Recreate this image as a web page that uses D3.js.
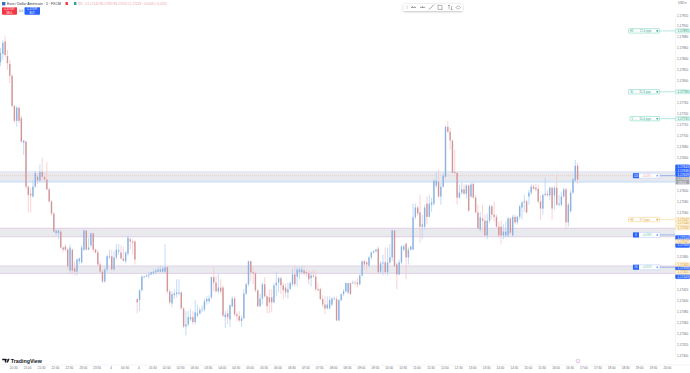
<!doctype html>
<html lang="fr">
<head>
<meta charset="utf-8">
<script src="https://d3js.org/d3.v7.min.js"></script>
<title>Euro / Dollar Américain</title>
<style>
  html, body { margin: 0; padding: 0; background: #fff; }
  svg { display: block; font-family: "Liberation Sans", sans-serif; }
</style>
</head>
<body>
<svg id="svg1" width="690" height="373"></svg>
<script>
// all prices are in points above 1.17000
const basePrice = 1.17;

const opens = [834,849,872,845,831,809,754,727,751,732,
687,689,607,594,589,607,625,618,634,625,
620,602,580,558,522,522,525,496,498,492,
454,492,458,452,471,469,492,527,492,500,
522,492,487,465,452,434,456,478,480,456,
478,489,487,476,471,485,511,507,507,402,
400,418,442,443,445,447,449,451,452,452,
452,452,460,416,394,409,411,412,414,385,
352,356,365,369,360,372,376,382,383,398,
398,405,442,432,416,423,423,369,376,365,
389,403,374,371,362,367,412,429,471,451,
449,418,389,403,429,407,405,405,396,427,
432,440,427,423,414,420,429,447,443,451,
451,454,451,449,440,445,443,420,420,402,
392,385,385,392,402,402,363,400,411,416,
414,431,431,432,432,429,445,471,469,463,
478,487,489,494,452,467,469,451,469,478,
527,465,447,469,492,503,478,492,492,551,
569,560,534,534,576,552,574,576,609,616,
589,607,625,716,707,691,634,632,587,596,
602,594,609,589,612,587,560,529,549,545,
518,545,571,556,552,534,534,518,518,518,
549,518,552,542,552,569,578,580,589,596,
607,605,603,580,567,592,594,591,605,591,
605,574,574,589,602,542,562,596,618,645];

const closes = [851,869,847,832,809,754,727,751,727,689,
691,607,592,591,607,632,618,634,625,620,
602,580,558,525,527,527,496,492,492,462,
496,454,452,474,476,496,527,492,496,522,
492,487,465,452,434,456,480,480,456,478,
492,491,476,472,487,514,507,505,474,396,
418,443,443,445,447,451,452,454,456,456,
458,460,416,396,411,412,414,414,385,352,
356,369,369,360,378,376,382,383,398,402,
403,442,432,416,423,416,372,374,369,391,
403,374,371,363,367,412,429,471,451,449,
418,389,403,429,407,389,396,396,427,432,
440,427,418,414,420,431,447,429,456,456,
456,449,449,438,445,443,420,418,402,392,
385,392,400,403,403,363,400,411,416,431,
431,411,432,431,429,445,471,465,465,478,
487,489,492,451,467,469,451,469,478,527,
462,447,469,498,498,478,492,498,551,569,
558,534,538,569,552,576,578,618,618,589,
607,627,716,707,691,632,632,587,596,602,
594,609,563,611,587,560,531,551,545,518,
545,571,556,552,534,518,518,525,525,549,
523,552,542,552,571,578,580,560,596,607,
603,602,580,567,592,594,591,605,567,605,
574,576,589,602,542,574,596,620,645,620];

const highs = [860,874,882,856,838,812,756,754,752,736,
692,691,609,605,620,636,631,647,660,632,
652,605,582,560,529,529,532,498,502,496,
502,494,471,476,478,500,529,527,514,523,
523,494,492,471,456,460,483,492,492,489,
502,503,500,498,489,518,514,511,509,403,
420,445,445,447,451,452,456,458,460,463,
460,502,462,420,416,420,438,438,416,387,
380,380,383,380,400,392,387,391,402,407,
409,443,460,445,449,438,427,380,382,392,
407,407,378,380,372,420,432,472,472,460,
452,420,411,432,442,411,420,420,431,452,
443,443,432,431,432,434,458,463,460,460,
463,460,456,454,452,456,454,431,423,409,
407,407,407,405,407,407,402,412,420,432,
432,432,436,436,440,447,472,474,472,480,
489,492,494,498,471,483,496,496,502,529,
529,469,474,500,502,505,496,498,576,576,
572,592,556,574,589,592,587,620,634,638,
614,631,718,727,714,692,674,634,611,614,
611,612,611,614,614,592,574,561,574,556,
558,574,574,580,556,543,545,538,543,552,
551,556,556,554,574,581,592,583,601,611,
611,612,611,591,594,623,600,607,607,609,
629,592,598,605,605,578,601,623,656,651];

const lows = [827,838,843,820,796,752,723,716,723,687,
665,602,560,560,587,605,612,616,618,616,
600,578,554,523,518,511,494,487,489,456,
449,447,445,445,465,467,489,491,491,496,
487,485,462,449,431,432,452,476,454,454,
474,483,474,471,467,481,492,483,465,376,
380,416,440,442,440,445,447,447,451,451,
451,449,412,392,387,402,405,409,383,349,
336,352,362,356,356,369,374,378,380,392,
394,402,416,414,412,412,369,349,356,351,
387,371,362,360,351,365,409,425,434,429,
414,387,387,392,405,376,376,378,394,407,
414,411,402,405,403,420,425,425,425,438,
447,445,442,429,425,442,416,416,400,387,
374,383,383,389,400,362,362,398,407,414,
411,409,429,427,423,427,443,456,452,460,
474,485,487,447,449,445,447,445,465,471,
460,420,445,465,489,438,465,491,492,547,
554,505,511,529,538,551,561,572,605,587,
574,605,623,705,674,632,629,574,585,592,
592,585,561,587,585,558,529,525,525,516,
511,540,547,543,532,514,502,511,514,514,
520,516,538,538,547,547,561,558,574,592,
602,598,576,547,556,589,589,583,547,565,
572,571,571,587,529,534,560,594,616,612];

const timeLabels = ["20:30","21:00","21:30","22:00","22:30","23:00","23:30","4","00:30","4","01:30","02:00","02:30","03:00","03:30","04:00","04:30","05:00","05:30","06:00","06:30","07:00","07:30","08:00","08:30","09:00","09:30","10:00","10:30","11:00","11:30","12:00","12:30","13:00","13:30","14:00","14:30","15:00","15:30","16:00","16:30","17:00","17:30","18:00","18:30","19:00","19:30","20:00"];

const priceTicks = [920,900,880,860,840,820,800,760,740,720,700,680,660,600,580,560,480,420,400,380,360,340,320,300];

// zones: top, bottom
const zoneTops = [634,531,462];
const zoneBottoms = [616,516,449];
const zoneColors = ["#d4e3f8","#e4d5e9","#e4d5e9"];

// position boxes on the right
const rangePrices = [891,780,731,547];
const rangeTexts = ["H1  ↔  21.4 pips","30  ↔  31.4 pips","5  ↔  10.4 pips","H4  ↔  9.7 pips"];
const rangeColors = ["#7fd8c4","#7fd8c4","#7fd8c4","#fbd48a"];
const positionPrices = [627,519,460];
const positionTexts = ["-3.20%","+0.38%","+0.32%"];
const positionColors = ["#f2a0a8","#66c8a8","#66c8a8"];

const blueLabels = [643,636,629,514,500,458,443];
const orangeLabels = [540,532,507,465,451];

const width = 690, height = 373;
const chartRight = 675, axisBottomY = 365;

const svg = d3.select("#svg1");

const xScale = d3.scaleLinear().domain([0, opens.length - 1]).range([0.5, 577.6]);
const yScale = d3.scaleLinear().domain([920, 300]).range([15, 355]);

const price = v => (basePrice + v / 100000).toFixed(5).replace(".", ",");

const defs = svg.append("defs");
defs.append("filter").attr("id", "soft").attr("x", "-5%").attr("y", "-5%").attr("width", "110%").attr("height", "110%")
  .append("feGaussianBlur").attr("stdDeviation", 0.35);

const plot = svg.append("g").attr("filter", "url(#soft)");

// zones
plot.selectAll(".zone").data(zoneTops).join("rect").attr("class", "zone")
  .attr("x", 0).attr("width", chartRight)
  .attr("y", d => yScale(d))
  .attr("height", (d, i) => yScale(zoneBottoms[i]) - yScale(d))
  .attr("fill", "#e9eaee");
plot.selectAll(".zoneTop").data(zoneTops).join("line").attr("class", "zoneTop")
  .attr("x1", 0).attr("x2", chartRight)
  .attr("y1", d => yScale(d)).attr("y2", d => yScale(d))
  .attr("stroke", (d, i) => i == 0 ? "#e2e5f4" : zoneColors[i]).attr("stroke-width", 1.2);
plot.selectAll(".zoneBottom").data(zoneBottoms).join("line").attr("class", "zoneBottom")
  .attr("x1", 0).attr("x2", chartRight)
  .attr("y1", d => yScale(d)).attr("y2", d => yScale(d))
  .attr("stroke", (d, i) => zoneColors[i]).attr("stroke-width", (d, i) => i == 0 ? 2 : 1.2);

// dotted lines inside first zone
plot.append("line").attr("x1", 0).attr("x2", chartRight)
  .attr("y1", yScale(positionPrices[0])).attr("y2", yScale(positionPrices[0]))
  .attr("stroke", "#eeb1a8").attr("stroke-width", 0.6).attr("stroke-dasharray", "1 1");

// wicks then bodies
const idx = d3.range(opens.length);
const isUp = i => closes[i] >= opens[i];

plot.selectAll(".wick").data(idx).join("line").attr("class", "wick")
  .attr("x1", i => xScale(i)).attr("x2", i => xScale(i))
  .attr("y1", i => yScale(highs[i])).attr("y2", i => yScale(lows[i]))
  .attr("stroke", i => isUp(i) ? "#b4d3f5" : "#fac6c9").attr("stroke-width", 0.8);

plot.selectAll(".body").data(idx).join("rect").attr("class", "body")
  .attr("x", i => xScale(i) - 0.7).attr("width", 1.4)
  .attr("y", i => yScale(Math.max(opens[i], closes[i])))
  .attr("height", i => Math.max(0.6, Math.abs(yScale(opens[i]) - yScale(closes[i]))))
  .attr("fill", i => isUp(i) ? "#8eb2e0" : "#cf979c");

// axes
const rightAxis = svg.append("g").attr("transform", `translate(${chartRight},0)`)
  .call(d3.axisRight(yScale).tickValues(priceTicks).tickFormat(price).tickSize(0).tickPadding(2));
rightAxis.select(".domain").attr("stroke", "#eceef2").attr("stroke-width", 0.6);
rightAxis.selectAll("text").attr("font-size", 3.1).attr("fill", "#6a6d78").attr("font-family", "Liberation Sans");

const timeAxis = svg.append("g").attr("transform", `translate(0,${axisBottomY})`)
  .call(d3.axisBottom(xScale)
    .tickValues(timeLabels.map((d, i) => 5.5 + i * 6))
    .tickFormat((d, i) => timeLabels[i]).tickSize(0).tickPadding(2));
timeAxis.select(".domain").remove();
svg.append("line").attr("x1", 0).attr("x2", width).attr("y1", axisBottomY).attr("y2", axisBottomY)
  .attr("stroke", "#eceef2").attr("stroke-width", 0.6);
timeAxis.selectAll("text").attr("font-size", 3.1).attr("fill", "#6a6d78").attr("font-family", "Liberation Sans");

// price tags on the axis
function priceTag(v, fill, stroke, color) {
  const y = yScale(v);
  svg.append("rect").attr("x", 675.5).attr("y", y - 2.1).attr("width", 14).attr("height", 4.2)
    .attr("rx", 0.6).attr("fill", fill).attr("stroke", stroke).attr("stroke-width", 0.4);
  svg.append("text").attr("x", 677.5).attr("y", y + 1.1).attr("font-size", 3.1)
    .attr("fill", color).text(price(v));
}
blueLabels.forEach(v => priceTag(v, "#2962ff", "#2962ff", "#fff"));
orangeLabels.forEach(v => priceTag(v, "#fff3dc", "#fbd48a", "#c9932f"));
rangePrices.forEach((v, i) => priceTag(v, i < 3 ? "#e6f8f3" : "#fff3dc", rangeColors[i], i < 3 ? "#2c9a82" : "#c9932f"));

// gray countdown tag
svg.append("rect").attr("x", 675.5).attr("y", 177).attr("width", 14).attr("height", 7.4).attr("fill", "#a4a6ae");
svg.append("text").attr("x", 677.5).attr("y", 180.2).attr("font-size", 3.1).attr("fill", "#fff").text(price(620));
svg.append("text").attr("x", 678.5).attr("y", 183.6).attr("font-size", 3.1).attr("fill", "#fff").text("03:21");

// boxes on the right of the chart
rangePrices.forEach((v, i) => {
  const y = yScale(v);
  const boxX = i == 2 ? 630 : 628.5;
  svg.append("line").attr("x1", 659).attr("x2", chartRight).attr("y1", y).attr("y2", y)
    .attr("stroke", rangeColors[i]).attr("stroke-width", 0.6);
  svg.append("rect").attr("x", boxX).attr("y", y - 2.2).attr("width", 659.5 - boxX).attr("height", 4.4)
    .attr("rx", 0.5).attr("fill", "#fff").attr("stroke", rangeColors[i]).attr("stroke-width", 0.6);
  svg.append("text").attr("x", boxX + 1.5).attr("y", y + 1).attr("font-size", 2.9)
    .attr("fill", i < 3 ? "#3aa88f" : "#d8a340").attr("xml:space", "preserve").text(rangeTexts[i]);
  svg.append("rect").attr("x", 656.5).attr("y", y - 0.8).attr("width", 1.6).attr("height", 1.6)
    .attr("fill", i < 3 ? "#3aa88f" : "#d8a340");
});

positionPrices.forEach((v, i) => {
  const y = yScale(v);
  svg.append("line").attr("x1", 660).attr("x2", chartRight).attr("y1", y).attr("y2", y)
    .attr("stroke", "#7a9ff0").attr("stroke-width", 0.7);
  svg.append("rect").attr("x", 633).attr("y", y - 2.5).attr("width", 27).attr("height", 5)
    .attr("rx", 0.6).attr("fill", "#fff").attr("stroke", "#bcd0f8").attr("stroke-width", 0.6);
  svg.append("rect").attr("x", 633).attr("y", y - 2.5).attr("width", 6).attr("height", 5).attr("fill", "#2962ff");
  svg.append("text").attr("x", 636).attr("y", y + 1).attr("font-size", 2.6).attr("text-anchor", "middle")
    .attr("fill", "#fff").text(["143","0","50"][i]);
  svg.append("text").attr("x", 642).attr("y", y + 1).attr("font-size", 2.9)
    .attr("fill", positionColors[i]).text(positionTexts[i]);
  svg.append("rect").attr("x", 656.5).attr("y", y - 0.8).attr("width", 1.6).attr("height", 1.6).attr("fill", "#7a9ff0");
});

// header
svg.append("rect").attr("x", 2).attr("y", 2).attr("width", 3.4).attr("height", 3.4).attr("fill", "#3b6fb5");
svg.append("text").attr("x", 7).attr("y", 4.6).attr("font-size", 3.5).attr("fill", "#30333c")
  .text("Euro / Dollar Américain · 5 · FXCM");
svg.append("rect").attr("x", 65.5).attr("y", 2).attr("width", 2.4).attr("height", 3).attr("fill", "#f23645");
svg.append("rect").attr("x", 74).attr("y", 2).attr("width", 2.4).attr("height", 3).attr("fill", "#26a69a");
svg.append("text").attr("x", 78).attr("y", 4.6).attr("font-size", 3.1).attr("fill", "#f3a3a8").text("RR");
svg.append("text").attr("x", 85).attr("y", 4.6).attr("font-size", 3.1).attr("fill", "#f0a0a6")
  .text("O1,17144 H1,17392 B1,17013 C1,17233 −0,0043 (−0,02%)");

svg.append("rect").attr("x", 2).attr("y", 7.2).attr("width", 15).attr("height", 7.6).attr("rx", 0.8).attr("fill", "#f23645");
svg.append("text").attr("x", 9.5).attr("y", 10.4).attr("font-size", 2.9).attr("fill", "#fff").attr("text-anchor", "middle").text("1,17197");
svg.append("text").attr("x", 9.5).attr("y", 13.6).attr("font-size", 2.6).attr("fill", "#fff").attr("text-anchor", "middle").text("SELL");
svg.append("text").attr("x", 21).attr("y", 11.8).attr("font-size", 3).attr("fill", "#6a6d78").attr("text-anchor", "middle").text("0.0");
svg.append("rect").attr("x", 24.5).attr("y", 7.2).attr("width", 15.5).attr("height", 7.6).attr("rx", 0.8).attr("fill", "#2962ff");
svg.append("text").attr("x", 32.2).attr("y", 10.4).attr("font-size", 2.9).attr("fill", "#fff").attr("text-anchor", "middle").text("1,17197");
svg.append("text").attr("x", 32.2).attr("y", 13.6).attr("font-size", 2.6).attr("fill", "#fff").attr("text-anchor", "middle").text("BUY");

svg.append("text").attr("x", 678).attr("y", 4.4).attr("font-size", 3.1).attr("fill", "#6a6d78").text("USD ▾");

// drawing toolbar
defs.append("filter").attr("id", "shadow").attr("x", "-10%").attr("y", "-40%").attr("width", "120%").attr("height", "190%")
  .append("feDropShadow").attr("dx", 0).attr("dy", 0.6).attr("stdDeviation", 0.9).attr("flood-color", "#000").attr("flood-opacity", 0.3);
svg.append("rect").attr("x", 403.5).attr("y", 4).attr("width", 59).attr("height", 7).attr("rx", 0.8).attr("fill", "#fff").attr("filter", "url(#shadow)");
const tools = svg.append("g").attr("fill", "none").attr("stroke", "#6f7280").attr("stroke-width", 0.5);
tools.append("path").attr("d", "M406.4 5.6v3.6M407.6 5.6v3.6").attr("stroke", "#cfd1d6");
tools.append("path").attr("d", "M411 7.4h5M412 6.6h1").attr("stroke-width", 0.7);
tools.append("path").attr("d", "M420 7.4h5M422 6.6h1").attr("stroke-width", 0.7);
tools.append("path").attr("d", "M429 9.6l5-5").attr("stroke-width", 0.7);
tools.append("path").attr("d", "M438 5.4h4v4h-4zM437.6 5h.8M441.6 9.4h.8");
tools.append("path").attr("d", "M449 5v4M451.5 6v4M448 6l1-1 1 1M450.6 9l1 1 1-1");
tools.append("path").attr("d", "M456 7.5c1-2 3-2 4.5 0c-1.5 2-3.5 2-4.5 0z");

// TradingView mark
const tv = svg.append("g").attr("fill", "#131722");
tv.append("path").attr("d", "M2.2 358.8h4v3.8h-1.4v-2.4h-2.6zM6.4 362.6l1.6-3.8h1.6l-1.6 3.8z");
tv.append("circle").attr("cx", 6.9).attr("cy", 359.7).attr("r", 0.7);
svg.append("text").attr("x", 10.8).attr("y", 363.2).attr("font-size", 5.3).attr("font-weight", 700)
  .attr("fill", "#131722").text("TradingView");

// event marker
svg.append("circle").attr("cx", 578).attr("cy", 361).attr("r", 1.9).attr("fill", "#fff").attr("stroke", "#c496d0").attr("stroke-width", 0.5);
svg.append("circle").attr("cx", 578).attr("cy", 361).attr("r", 0.5).attr("fill", "#c496d0");
</script>
</body>
</html>
